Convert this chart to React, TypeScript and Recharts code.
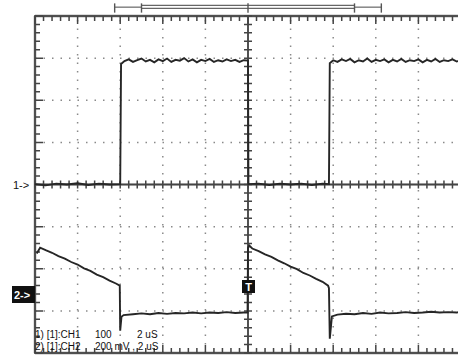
import React from "react";
import { ComposedChart, Line, XAxis, YAxis, ReferenceLine } from "recharts";

// time axis in divisions (2 uS/div), vertical in screen divisions
const ch1Time = [0, 0.25, 0.5, 0.75, 1, 1.25, 1.5, 1.75, 2.0,
  2.02, 2.1, 2.2, 2.3, 2.4, 2.5, 2.6, 2.7, 2.8, 2.9, 3.0, 3.1, 3.2, 3.3, 3.4, 3.5, 3.6, 3.7, 3.8, 3.9, 4.0, 4.1, 4.2, 4.3, 4.4, 4.5, 4.6, 4.7, 4.8, 4.9, 5.0,
  5.01, 5.25, 5.5, 5.75, 6.0, 6.25, 6.5, 6.75, 6.9,
  6.92, 7.0, 7.1, 7.2, 7.3, 7.4, 7.5, 7.6, 7.7, 7.8, 7.9, 8.0, 8.1, 8.2, 8.3, 8.4, 8.5, 8.6, 8.7, 8.8, 8.9, 9.0, 9.1, 9.2, 9.3, 9.4, 9.5, 9.6, 9.7, 9.8, 9.9, 10];
const ch1Value = [0.01, -0.02, 0.02, 0, 0.03, -0.01, 0.02, 0, 0.01,
  2.86, 2.93, 2.97, 2.91, 2.95, 2.99, 2.92, 2.96, 2.9, 2.97, 2.93, 2.99, 2.91, 2.96, 2.94, 3.0, 2.92, 2.97, 2.9, 2.96, 2.93, 2.98, 2.91, 2.95, 2.92, 2.97, 2.93, 2.96, 2.91, 2.95, 2.94,
  0.01, 0.02, -0.01, 0.02, 0, 0.02, -0.01, 0.02, 0.01,
  2.88, 2.95, 2.91, 2.97, 2.93, 2.98, 2.9, 2.95, 2.92, 2.99, 2.91, 2.96, 2.93, 2.97, 2.9, 2.96, 2.92, 2.98, 2.91, 2.95, 2.93, 2.97, 2.9, 2.96, 2.92, 2.98, 2.91, 2.95, 2.93, 2.97, 2.92, 2.95];

const ch2Time = [0.04, 0.12, 0.25, 0.4, 0.55, 0.7, 0.85, 1.0, 1.15, 1.3, 1.45, 1.6, 1.75, 1.9, 1.99,
  2.0, 2.03, 2.08, 2.3, 2.5, 2.7, 2.9, 3.1, 3.3, 3.5, 3.7, 3.9, 4.1, 4.3, 4.5, 4.7, 4.9, 4.99,
  5.0, 5.03, 5.1, 5.25, 5.4, 5.55, 5.7, 5.85, 6.0, 6.15, 6.3, 6.45, 6.6, 6.75, 6.88, 6.9,
  6.92, 6.97, 7.1, 7.3, 7.5, 7.7, 7.9, 8.1, 8.3, 8.5, 8.7, 8.9, 9.1, 9.3, 9.5, 9.7, 9.9, 10];
const ch2Value = [-1.64, -1.5, -1.56, -1.62, -1.7, -1.76, -1.84, -1.9, -1.99, -2.05, -2.14, -2.2, -2.28, -2.35, -2.4,
  -3.47, -3.14, -3.1, -3.08, -3.06, -3.08, -3.05, -3.07, -3.05, -3.06, -3.04, -3.06, -3.04, -3.05, -3.03, -3.05, -3.04, -3.04,
  -1.5, -1.45, -1.52, -1.58, -1.66, -1.72, -1.8, -1.87, -1.95, -2.01, -2.1, -2.16, -2.24, -2.31, -2.4, -2.46,
  -3.66, -3.13, -3.09, -3.07, -3.08, -3.05, -3.07, -3.04, -3.06, -3.05, -3.03, -3.05, -3.04, -3.02, -3.04, -3.03, -3.04, -3.02];

const majorX = [1, 2, 3, 4, 6, 7, 8, 9];
const majorY = [-3, -2, -1, 1, 2, 3];
const minorX = [0, 0.2, 0.4, 0.6, 0.8, 1, 1.2, 1.4, 1.6, 1.8, 2, 2.2, 2.4, 2.6, 2.8, 3, 3.2, 3.4, 3.6, 3.8, 4, 4.2, 4.4, 4.6, 4.8, 5,
  5.2, 5.4, 5.6, 5.8, 6, 6.2, 6.4, 6.6, 6.8, 7, 7.2, 7.4, 7.6, 7.8, 8, 8.2, 8.4, 8.6, 8.8, 9, 9.2, 9.4, 9.6, 9.8, 10];
const minorY = [-4, -3.8, -3.6, -3.4, -3.2, -3, -2.8, -2.6, -2.4, -2.2, -2, -1.8, -1.6, -1.4, -1.2, -1, -0.8, -0.6, -0.4, -0.2, 0,
  0.2, 0.4, 0.6, 0.8, 1, 1.2, 1.4, 1.6, 1.8, 2, 2.2, 2.4, 2.6, 2.8, 3, 3.2, 3.4, 3.6, 3.8, 4];

const ch1 = ch1Time.map((t, i) => ({ t, v: ch1Value[i] }));
const ch2 = ch2Time.map((t, i) => ({ t, v: ch2Value[i] }));
const isMajor = (n: number) => Math.abs(n - Math.round(n)) < 0.01;

const GRID = "#8a8a8a";
const FRAME = "#707070";
const TRACE = "#262626";
const TICK = "#444";
const dx = 1 / 42.6; // one pixel in x-divisions
const dy = 1 / 42.1; // one pixel in y-divisions

// tick-mark paths drawn as comb-shaped polylines through the chart scales
const hcPath: { t: number; v: number }[] = [];
const topPath: { t: number; v: number }[] = [];
const botPath: { t: number; v: number }[] = [];
minorX.forEach((t) => {
  const L = isMajor(t) ? 8 : 5;
  hcPath.push({ t, v: 0 }, { t, v: 4 * dy }, { t, v: -4 * dy }, { t, v: 0 });
  topPath.push({ t, v: 4 }, { t, v: 4 - L * dy }, { t, v: 4 });
  botPath.push({ t, v: -4 }, { t, v: -4 + L * dy }, { t, v: -4 });
});
const vcPath: { t: number; v: number }[] = [];
const leftPath: { t: number; v: number }[] = [];
minorY.forEach((v) => {
  const L = isMajor(v) ? 8 : 5;
  vcPath.push({ t: 5, v }, { t: 5 + 4 * dx, v }, { t: 5 - 4 * dx, v }, { t: 5, v });
  leftPath.push({ t: 0, v }, { t: L * dx, v }, { t: 0, v });
});

export default function App() {
  const font = "'Liberation Sans', Arial, sans-serif";
  const tickLine = (d: any, k: string) => (
    <Line key={k} data={d} dataKey="v" type="linear" stroke={TICK} strokeWidth={1.5} dot={false} activeDot={false} isAnimationActive={false} />
  );
  return (
    <div style={{ position: "fixed", left: 0, top: 0, width: 458, height: 358, overflow: "hidden", background: "#fff" }}>
      <ComposedChart width={470} height={358} margin={{ top: 16, right: 9, bottom: 5, left: 35 }}>
        <XAxis dataKey="t" type="number" domain={[0, 10]} hide />
        <YAxis dataKey="v" type="number" domain={[-4, 4]} hide />
        {majorX.map((x) => (
          <ReferenceLine key={"gx" + x} x={x} stroke={GRID} strokeWidth={1.5} strokeDasharray="1.5 7" />
        ))}
        {majorY.map((y) => (
          <ReferenceLine key={"gy" + y} y={y} stroke={GRID} strokeWidth={1.5} strokeDasharray="1.5 7" />
        ))}
        <ReferenceLine x={5} stroke={FRAME} strokeWidth={1.8} />
        <ReferenceLine y={0} stroke={FRAME} strokeWidth={1.8} />
        <ReferenceLine x={0} stroke={FRAME} strokeWidth={2.4} />
        <ReferenceLine y={4} stroke={FRAME} strokeWidth={2.4} />
        <ReferenceLine y={-4} stroke={FRAME} strokeWidth={2.4} />
        <ReferenceLine x={10} stroke={FRAME} strokeWidth={2.4} />
        {/* top record-length bar */}
        <ReferenceLine segment={[{ x: 1.87, y: 4.21 }, { x: 2.5, y: 4.21 }]} stroke="#666" strokeWidth={1.2} ifOverflow="visible" />
        <ReferenceLine segment={[{ x: 7.5, y: 4.21 }, { x: 8.13, y: 4.21 }]} stroke="#666" strokeWidth={1.2} ifOverflow="visible" />
        <ReferenceLine segment={[{ x: 2.5, y: 4.25 }, { x: 7.5, y: 4.25 }]} stroke="#666" strokeWidth={1.2} ifOverflow="visible" />
        <ReferenceLine segment={[{ x: 2.5, y: 4.18 }, { x: 7.5, y: 4.18 }]} stroke="#666" strokeWidth={1.2} ifOverflow="visible" />
        {[1.87, 2.5, 5.0, 7.5, 8.13].map((x) => (
          <ReferenceLine key={"bar" + x} segment={[{ x, y: 4.3 }, { x, y: 4.08 }]} stroke="#555" strokeWidth={1.4} ifOverflow="visible" />
        ))}
        {tickLine(hcPath, "hc")}
        {tickLine(topPath, "top")}
        {tickLine(botPath, "bot")}
        {tickLine(vcPath, "vc")}
        {tickLine(leftPath, "left")}
        <Line data={ch1} dataKey="v" type="linear" stroke={TRACE} strokeWidth={1.9} dot={false} activeDot={false} isAnimationActive={false} />
        <Line data={ch2} dataKey="v" type="linear" stroke={TRACE} strokeWidth={1.9} dot={false} activeDot={false} isAnimationActive={false} />
      </ComposedChart>
      <svg width={458} height={358} style={{ position: "absolute", left: 0, top: 0, pointerEvents: "none" }}>
        <text x={13} y={189} fontSize={11} fontFamily={font} fill="#111">1-&gt;</text>
        <rect x={12} y={286} width={23} height={17} fill="#111" />
        <text x={14} y={299} fontSize={11} fontWeight="bold" fontFamily={font} fill="#fff">2-&gt;</text>
        <rect x={242} y={280} width={13} height={13} fill="#111" />
        <text x={248.5} y={291} fontSize={11} fontWeight="bold" fontFamily={font} fill="#fff" textAnchor="middle">T</text>
        <g fontSize={10} fontFamily={font} fill="#111">
          <text x={35} y={338}>1) [1]:CH1</text>
          <text x={95} y={338}>100</text>
          <text x={137} y={338}>2 uS</text>
          <text x={35} y={350}>2) [1]:CH2</text>
          <text x={95} y={350}>200 mV , 2 uS</text>
        </g>
      </svg>
    </div>
  );
}
